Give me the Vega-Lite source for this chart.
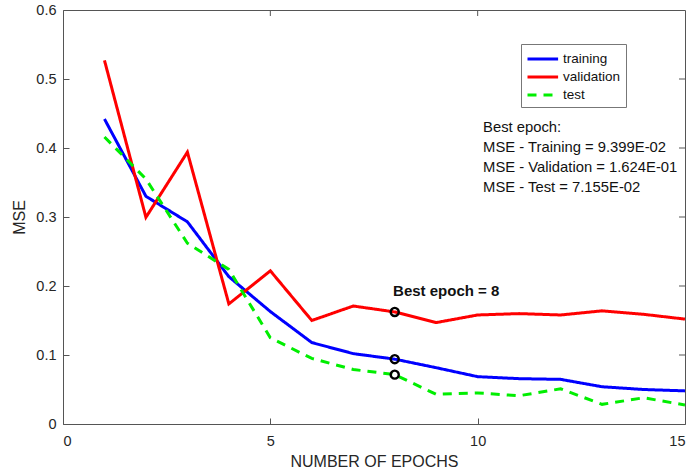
{
  "$schema": "https://vega.github.io/schema/vega-lite/v6.json",
  "width": 622,
  "height": 414,
  "autosize": {"type": "none"},
  "padding": {"left": 63, "top": 10, "right": 5, "bottom": 50},
  "background": "white",
  "config": {
    "font": "Liberation Sans",
    "view": {"stroke": "#555555", "strokeWidth": 1},
    "axis": {
      "grid": false,
      "domain": false,
      "tickColor": "#555555",
      "tickSize": -6,
      "labelColor": "#262626",
      "labelFont": "Liberation Sans",
      "labelFontSize": 14.5,
      "titleFont": "Liberation Sans",
      "titleFontSize": 16,
      "titleFontWeight": "normal",
      "titleColor": "#262626"
    },
    "legend": {
      "orient": "none",
      "legendX": 458,
      "legendY": 34,
      "strokeColor": "#777777",
      "fillColor": "white",
      "padding": 5,
      "labelFont": "Liberation Sans",
      "labelFontSize": 13.5,
      "labelColor": "#111111",
      "symbolType": "M-1,0H2.6",
      "symbolSize": 289,
      "symbolStrokeWidth": 3,
      "rowPadding": 1,
      "labelOffset": 17
    }
  },
  "datasets": {
    "curves": [
      {"epoch": 1, "mse": 0.442, "series": "training"},
      {"epoch": 2, "mse": 0.330, "series": "training"},
      {"epoch": 3, "mse": 0.293, "series": "training"},
      {"epoch": 4, "mse": 0.2135, "series": "training"},
      {"epoch": 5, "mse": 0.163, "series": "training"},
      {"epoch": 6, "mse": 0.118, "series": "training"},
      {"epoch": 7, "mse": 0.102, "series": "training"},
      {"epoch": 8, "mse": 0.09399, "series": "training"},
      {"epoch": 9, "mse": 0.0816, "series": "training"},
      {"epoch": 10, "mse": 0.0686, "series": "training"},
      {"epoch": 11, "mse": 0.0657, "series": "training"},
      {"epoch": 12, "mse": 0.0647, "series": "training"},
      {"epoch": 13, "mse": 0.054, "series": "training"},
      {"epoch": 14, "mse": 0.050, "series": "training"},
      {"epoch": 15, "mse": 0.048, "series": "training"},
      {"epoch": 1, "mse": 0.527, "series": "validation"},
      {"epoch": 2, "mse": 0.2995, "series": "validation"},
      {"epoch": 3, "mse": 0.394, "series": "validation"},
      {"epoch": 4, "mse": 0.174, "series": "validation"},
      {"epoch": 5, "mse": 0.222, "series": "validation"},
      {"epoch": 6, "mse": 0.150, "series": "validation"},
      {"epoch": 7, "mse": 0.171, "series": "validation"},
      {"epoch": 8, "mse": 0.1624, "series": "validation"},
      {"epoch": 9, "mse": 0.147, "series": "validation"},
      {"epoch": 10, "mse": 0.158, "series": "validation"},
      {"epoch": 11, "mse": 0.160, "series": "validation"},
      {"epoch": 12, "mse": 0.158, "series": "validation"},
      {"epoch": 13, "mse": 0.164, "series": "validation"},
      {"epoch": 14, "mse": 0.159, "series": "validation"},
      {"epoch": 15, "mse": 0.152, "series": "validation"},
      {"epoch": 1, "mse": 0.416, "series": "test"},
      {"epoch": 2, "mse": 0.355, "series": "test"},
      {"epoch": 3, "mse": 0.262, "series": "test"},
      {"epoch": 4, "mse": 0.224, "series": "test"},
      {"epoch": 5, "mse": 0.125, "series": "test"},
      {"epoch": 6, "mse": 0.095, "series": "test"},
      {"epoch": 7, "mse": 0.079, "series": "test"},
      {"epoch": 8, "mse": 0.07155, "series": "test"},
      {"epoch": 9, "mse": 0.043, "series": "test"},
      {"epoch": 10, "mse": 0.045, "series": "test"},
      {"epoch": 11, "mse": 0.041, "series": "test"},
      {"epoch": 12, "mse": 0.051, "series": "test"},
      {"epoch": 13, "mse": 0.0285, "series": "test"},
      {"epoch": 14, "mse": 0.038, "series": "test"},
      {"epoch": 15, "mse": 0.0275, "series": "test"}
    ],
    "best": [
      {"epoch": 8, "mse": 0.09399},
      {"epoch": 8, "mse": 0.1624},
      {"epoch": 8, "mse": 0.07155}
    ],
    "notes": [
      {"x": 10.13, "y": 0.429, "label": "Best epoch:"},
      {"x": 10.13, "y": 0.400, "label": "MSE - Training = 9.399E-02"},
      {"x": 10.13, "y": 0.371, "label": "MSE - Validation = 1.624E-01"},
      {"x": 10.13, "y": 0.342, "label": "MSE - Test = 7.155E-02"}
    ],
    "bestLabel": [
      {"x": 7.96, "y": 0.193, "label": "Best epoch = 8"}
    ],
    "xticks": [{"v": 5}, {"v": 10}],
    "yticks": [{"v": 0.1}, {"v": 0.2}, {"v": 0.3}, {"v": 0.4}, {"v": 0.5}]
  },
  "layer": [
    {
      "data": {"name": "curves"},
      "mark": {"type": "line", "strokeWidth": 3, "clip": true},
      "encoding": {
        "x": {"field": "epoch", "type": "quantitative", "scale": {"domain": [0, 15], "nice": false}, "axis": {"values": [0, 5, 10, 15], "title": "NUMBER OF EPOCHS", "labelPadding": 16, "titlePadding": 6}},
        "y": {"field": "mse", "type": "quantitative", "scale": {"domain": [0, 0.6], "nice": false}, "axis": {"values": [0, 0.1, 0.2, 0.3, 0.4, 0.5, 0.6], "format": "~g", "title": "MSE", "labelPadding": 13, "titlePadding": 8}},
        "color": {"field": "series", "type": "nominal", "title": null, "scale": {"domain": ["training", "validation", "test"], "range": ["#0000ff", "#ff0000", "#00ee00"]}},
        "strokeDash": {"field": "series", "type": "nominal", "title": null, "scale": {"domain": ["training", "validation", "test"], "range": [[1, 0], [1, 0], [9, 7]]}}
      }
    },
    {
      "data": {"name": "xticks"},
      "mark": {"type": "tick", "orient": "vertical", "size": 12, "thickness": 1, "color": "#555555", "clip": true, "opacity": 1},
      "encoding": {
        "x": {"field": "v", "type": "quantitative"},
        "y": {"datum": 0.6}
      }
    },
    {
      "data": {"name": "yticks"},
      "mark": {"type": "tick", "orient": "horizontal", "size": 12, "thickness": 1, "color": "#555555", "clip": true, "opacity": 1},
      "encoding": {
        "y": {"field": "v", "type": "quantitative"},
        "x": {"datum": 15}
      }
    },
    {
      "data": {"name": "best"},
      "mark": {"type": "point", "shape": "circle", "filled": false, "stroke": "black", "strokeWidth": 2.4, "size": 65, "opacity": 1},
      "encoding": {
        "x": {"field": "epoch", "type": "quantitative"},
        "y": {"field": "mse", "type": "quantitative"}
      }
    },
    {
      "data": {"name": "notes"},
      "mark": {"type": "text", "align": "left", "baseline": "middle", "fontSize": 14.8, "color": "#111111", "font": "Liberation Sans"},
      "encoding": {
        "x": {"field": "x", "type": "quantitative"},
        "y": {"field": "y", "type": "quantitative"},
        "text": {"field": "label"}
      }
    },
    {
      "data": {"name": "bestLabel"},
      "mark": {"type": "text", "align": "left", "baseline": "middle", "fontSize": 15, "fontWeight": "bold", "color": "#111111", "font": "Liberation Sans"},
      "encoding": {
        "x": {"field": "x", "type": "quantitative"},
        "y": {"field": "y", "type": "quantitative"},
        "text": {"field": "label"}
      }
    }
  ]
}
